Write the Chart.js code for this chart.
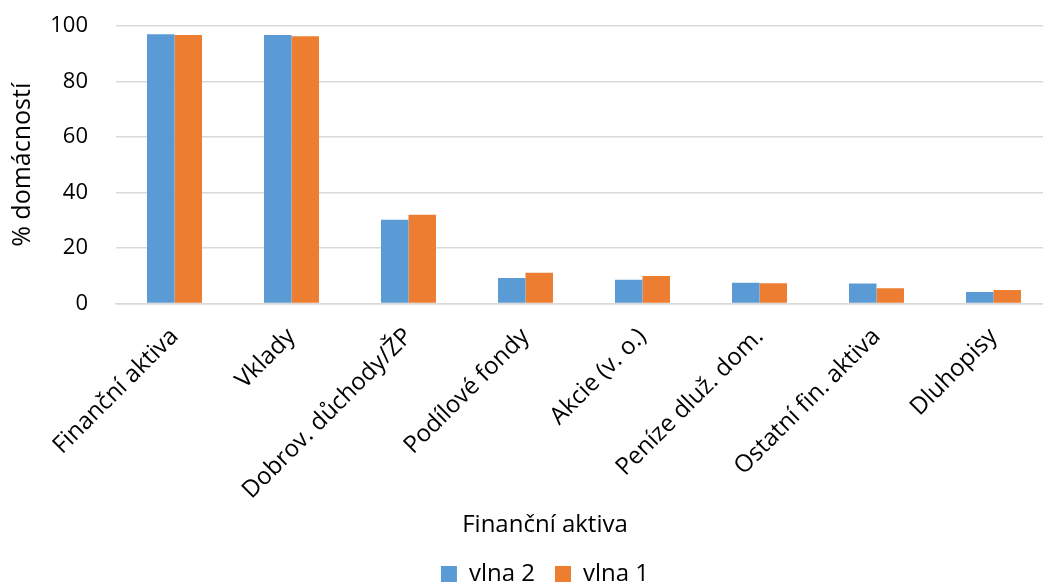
<!DOCTYPE html>
<html>
<head>
<meta charset="utf-8">
<script src="https://cdn.jsdelivr.net/npm/chart.js@4"></script>
<style>
  html, body { margin: 0; padding: 0; overflow: hidden; background: #fff; }
  #wrap { width: 1090px; height: 596px; }
</style>
</head>
<body>
<div id="wrap"><canvas id="barChart"></canvas></div>
<script>
const categories = ["Finanční aktiva", "Vklady", "Dobrov. důchody/ŽP", "Podílové fondy",
  "Akcie (v. o.)", "Peníze dluž. dom.", "Ostatní fin. aktiva", "Dluhopisy"];
const vlna2 = [97.0, 96.8, 30.2, 9.2, 8.6, 7.5, 7.2, 4.2];
const vlna1 = [96.8, 96.3, 32.0, 11.1, 9.9, 7.3, 5.5, 4.9];
const yTicks = [0, 20, 40, 60, 80, 100];

const font = "'Open Sans', sans-serif";

const config = {
  type: "bar",
  data: {
    labels: categories,
    datasets: [
      { label: "vlna 2", data: vlna2, backgroundColor: "#5B9BD5" },
      { label: "vlna 1", data: vlna1, backgroundColor: "#ED7D31" }
    ]
  },
  options: {
    responsive: true,
    maintainAspectRatio: false,
    animation: false,
    layout: { padding: { top: 26, right: 0, left: 0, bottom: 0 } },
    datasets: { bar: { barPercentage: 1, categoryPercentage: 0.47 } },
    plugins: {
      legend: {
        position: "bottom",
        weight: 1000,
        labels: {
          color: "#000",
          boxWidth: 16,
          boxHeight: 16,
          padding: 20,
          font: { family: font, size: 24 }
        }
      },
      title: {
        display: true,
        position: "bottom",
        weight: 500,
        text: "Finanční aktiva",
        color: "#000",
        font: { family: font, size: 24, weight: "normal" },
        padding: { top: 7.6, bottom: 2 }
      },
      tooltip: { enabled: false }
    },
    scales: {
      x: {
        grid: { display: false, drawTicks: false },
        border: { color: "#d9d9d9", width: 1.5 },
        ticks: {
          color: "#000",
          maxRotation: 45,
          minRotation: 45,
          padding: 19,
          font: { family: font, size: 24 }
        },
        afterFit: (scale) => {
          scale.height = 200;
          scale.paddingLeft = 0;
          scale.paddingRight = 0;
        }
      },
      y: {
        min: 0,
        max: 100,
        afterBuildTicks: (scale) => { scale.ticks = yTicks.map(v => ({ value: v })); },
        grid: { color: "#d9d9d9", lineWidth: 1.5, drawTicks: false },
        border: { display: false },
        ticks: {
          color: "#000",
          padding: 28,
          font: { family: font, size: 22 }
        },
        title: {
          display: true,
          text: "% domácností",
          color: "#000",
          padding: { top: 8, bottom: 0 },
          font: { family: font, size: 25 }
        },
        afterFit: (scale) => {
          scale.width = 116;
          scale.paddingTop = 0;
          scale.paddingBottom = 0;
        }
      },
      // empty right-hand spacer so the plot ends at x=1052 while legend stays centred on the canvas
      spacer: {
        position: "right",
        grid: { display: false, drawTicks: false },
        border: { display: false },
        ticks: { display: false },
        afterFit: (scale) => {
          scale.width = 38;
          scale.paddingTop = 0;
          scale.paddingBottom = 0;
        }
      }
    }
  }
};

new Chart(document.getElementById("barChart"), config);
</script>
</body>
</html>
